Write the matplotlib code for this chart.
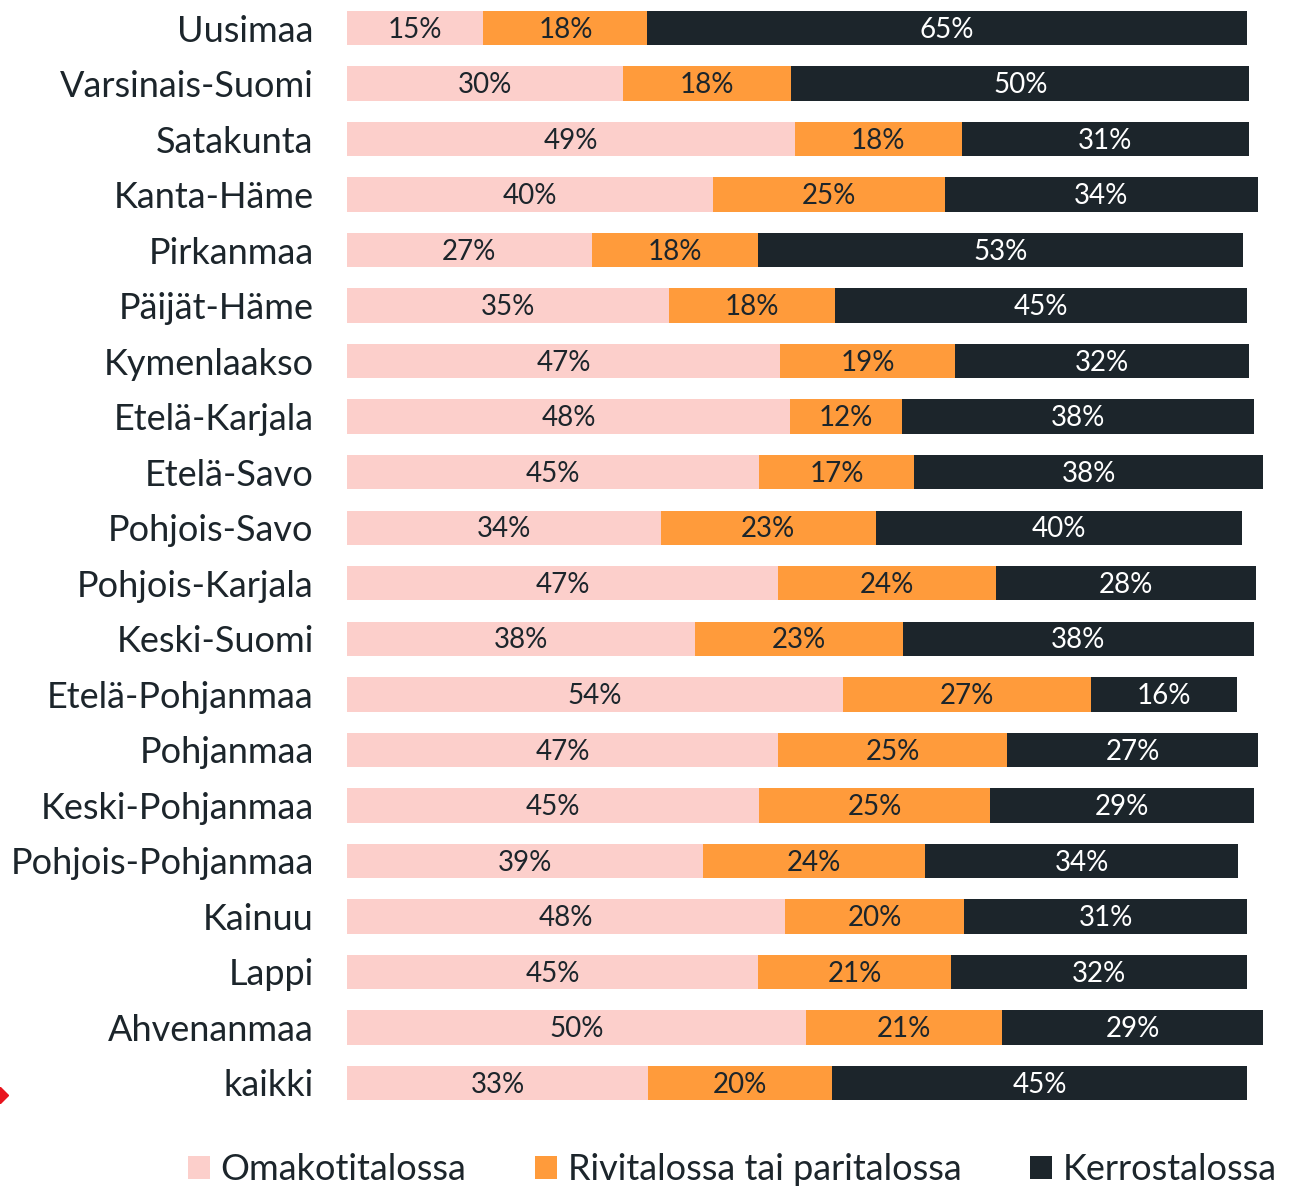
import matplotlib
matplotlib.use("Agg")
import matplotlib.pyplot as plt
from matplotlib.patches import Patch

plt.rcParams['font.family'] = ['Lato', 'DejaVu Sans']

regions = ['Uusimaa', 'Varsinais-Suomi', 'Satakunta', 'Kanta-Häme', 'Pirkanmaa',
           'Päijät-Häme', 'Kymenlaakso', 'Etelä-Karjala', 'Etelä-Savo', 'Pohjois-Savo',
           'Pohjois-Karjala', 'Keski-Suomi', 'Etelä-Pohjanmaa', 'Pohjanmaa',
           'Keski-Pohjanmaa', 'Pohjois-Pohjanmaa', 'Kainuu', 'Lappi', 'Ahvenanmaa', 'kaikki']

omakoti = [14.9, 30.1, 48.9, 40.0, 26.7, 35.2, 47.3, 48.4, 45.0, 34.3,
           47.1, 38.0, 54.1, 47.1, 45.0, 38.9, 47.8, 44.9, 50.1, 32.9]
rivitalo = [17.9, 18.4, 18.2, 25.3, 18.2, 18.1, 19.1, 12.2, 16.9, 23.4,
            23.7, 22.7, 27.1, 25.0, 25.2, 24.2, 19.6, 21.0, 21.4, 20.0]
kerrostalo = [65.4, 50.0, 31.4, 34.1, 52.9, 44.9, 32.1, 38.4, 38.2, 40.0,
              28.4, 38.3, 16.0, 27.4, 28.8, 34.2, 30.9, 32.4, 28.6, 45.4]

series_names = ['Omakotitalossa', 'Rivitalossa tai paritalossa', 'Kerrostalossa']
colors = ['#FCCFCB', '#FF9B3B', '#1C252B']
text_colors = ['#1C252B', '#1C252B', '#FFFFFF']

W, H = 1301, 1188
fig = plt.figure(figsize=(W / 100, H / 100), dpi=100)
row = 55.5
top_px = 28 - row / 2
bot_px = 1083 + row / 2
ax = fig.add_axes([347 / W, 1 - bot_px / H, 916 / W, (bot_px - top_px) / H])

n = len(regions)
ypos = list(range(n))
left = [0.0] * n
for vals, col, tcol in zip([omakoti, rivitalo, kerrostalo], colors, text_colors):
    ax.barh(ypos, vals, left=left, height=0.62, color=col, edgecolor='none')
    for i, v in enumerate(vals):
        ax.text(left[i] + v / 2, i + 0.03, f'{round(v)}%', ha='center', va='center',
                fontsize=20, color=tcol)
    left = [l + v for l, v in zip(left, vals)]

ax.set_xlim(0, 100)
ax.set_ylim(n - 0.5, -0.5)
ax.set_yticks(ypos)
ax.set_yticklabels(regions, fontsize=26, color='#1C252B')
ax.tick_params(axis='y', length=0, pad=24)
ax.set_xticks([])
for s in ax.spines.values():
    s.set_visible(False)

handles = [Patch(facecolor=c, edgecolor='none') for c in colors]
fig.legend(handles, series_names, loc='center left',
           bbox_to_anchor=(170 / W, 1 - 1170 / H), ncol=3, frameon=False,
           fontsize=26, handlelength=0.6, handleheight=0.6, handletextpad=0.3,
           columnspacing=1.9, borderpad=0, labelcolor='#1C252B')

# small red marker cut off at the left edge
ax.plot([0.0], [1 - 1095 / H], marker='D', color='#E8141E', markersize=8,
        transform=fig.transFigure, clip_on=False)

fig.savefig('out.png', dpi=100)
